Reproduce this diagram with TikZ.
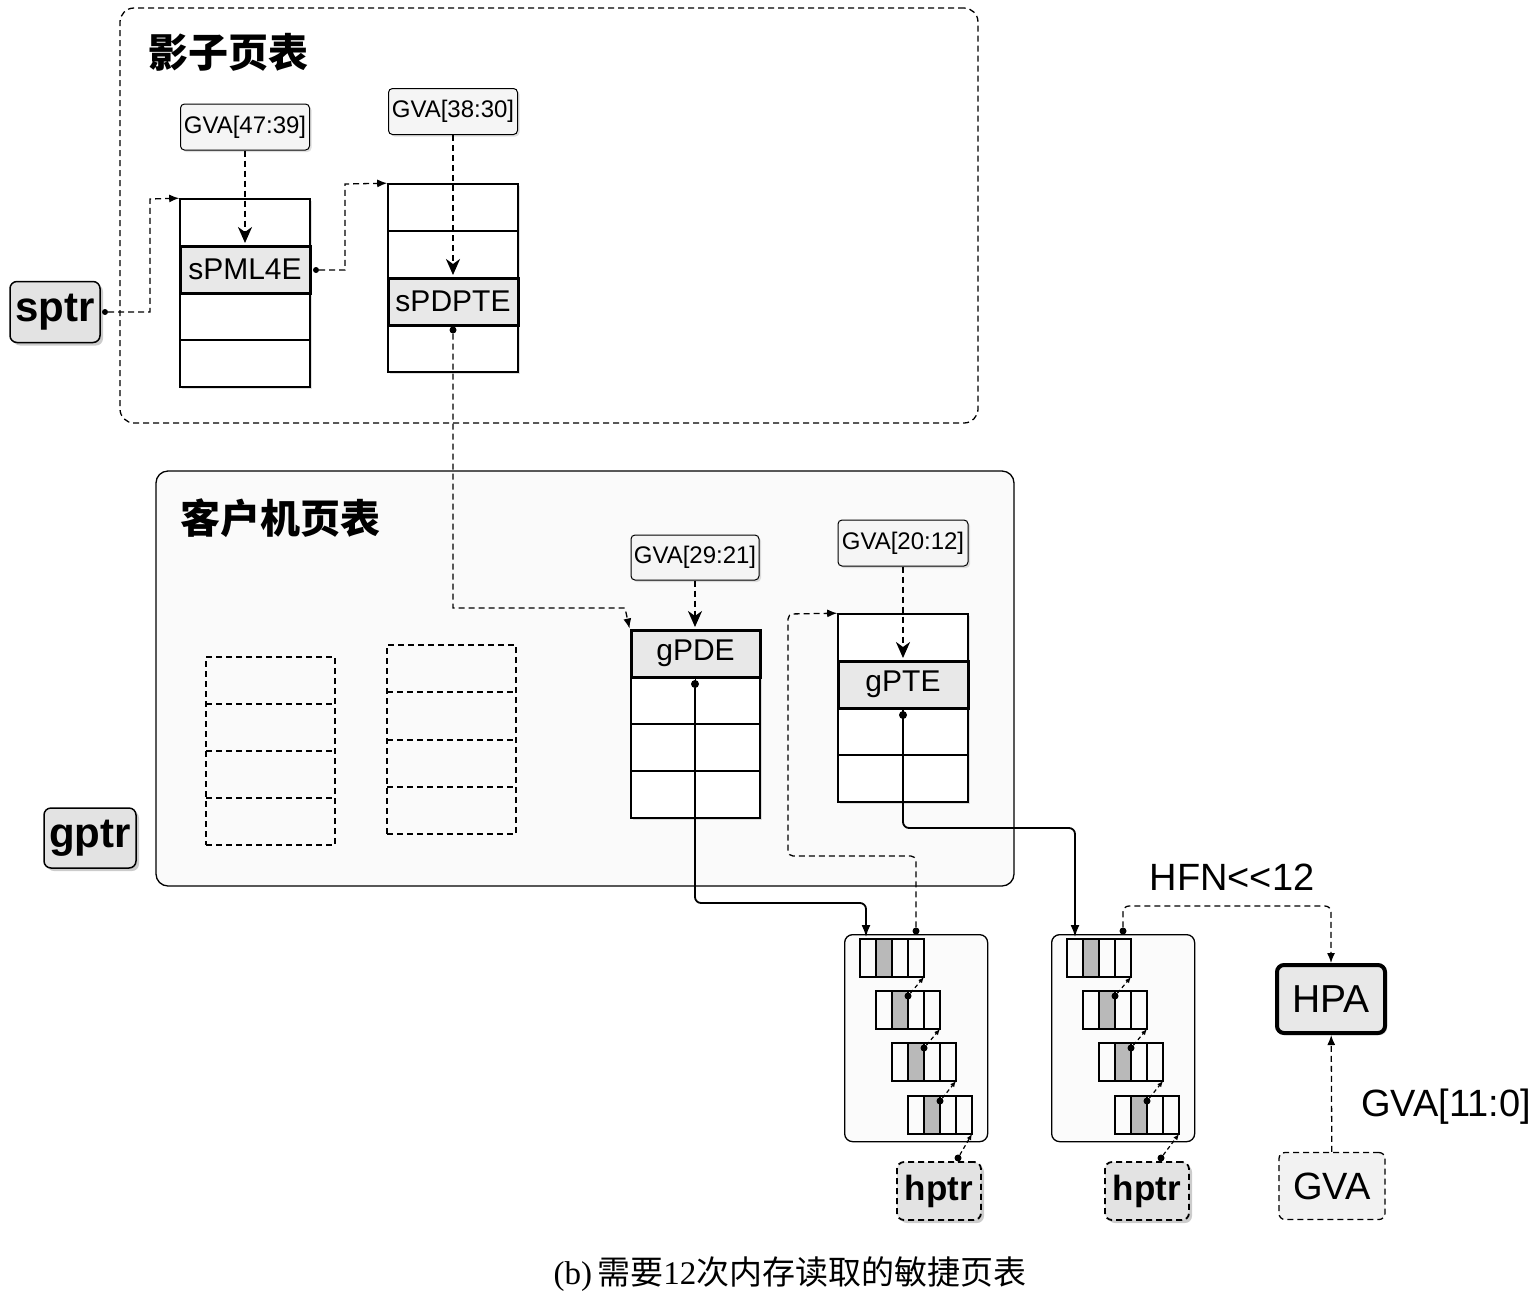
\documentclass[tikz,border=0pt]{standalone}
\usepackage{fontspec}
\setmainfont{Liberation Serif}
\newfontfamily\sans{Liberation Sans}
\newfontfamily\cjk{Noto Sans CJK SC}
\usetikzlibrary{shadows,arrows.meta,calc}
\begin{document}
\begin{tikzpicture}[x=1pt,y=-1pt,
  dsh/.style={dash pattern=on 6pt off 4pt},
  lbl/.style={draw,line width=1pt,rounded corners=4pt,fill=gray!8,font=\sans\fontsize{24}{26}\selectfont,inner sep=1pt,minimum width=129pt,minimum height=46pt,drop shadow={shadow xshift=2pt,shadow yshift=-2pt,opacity=.25}},
  ptr/.style={draw,line width=1.5pt,rounded corners=7pt,fill=gray!22,font=\sans\bfseries\fontsize{42}{46}\selectfont,inner sep=0pt,drop shadow={shadow xshift=3pt,shadow yshift=-3pt,opacity=.4}},
  tbl/.style={draw,line width=1.6pt,fill=white,minimum width=130pt,inner sep=0pt,drop shadow={shadow xshift=2pt,shadow yshift=-2pt,opacity=.25}},
  hl/.style={draw,line width=3pt,fill=gray!18,minimum width=130pt,minimum height=47pt,inner sep=0pt,font=\sans\fontsize{30}{32}\selectfont},
  dtbl/.style={draw,dsh,line width=1.2pt,minimum width=130pt,inner sep=0pt},
  con/.style={dsh,line width=1.3pt,-{Latex[length=10pt,width=8pt]}},
  gva/.style={dsh,line width=2.2pt,-{Stealth[length=16pt,width=14pt,inset=5pt]}},
  sol/.style={line width=1.8pt,rounded corners=6pt,-{Latex[length=12pt,width=9pt]}},
  dot/.style={circle,fill=black,inner sep=0pt,minimum size=8pt},
  sarr/.style={dash pattern=on 4pt off 3pt,line width=1.2pt,-{Latex[length=6pt,width=5pt]}}
]
\useasboundingbox (0,0) rectangle (1534,1294);
\node[draw,dsh,line width=1.3pt,rounded corners=14pt,minimum width=858pt,minimum height=415pt,inner sep=0pt] (shadowbox) at (549,215.5) {};
\node[font=\cjk\bfseries\fontsize{40}{42}\selectfont,anchor=west] (t1) at (145,52) {影子页表};
\node[draw,line width=1.3pt,rounded corners=12pt,fill=gray!4,minimum width=858pt,minimum height=415pt,inner sep=0pt] (guestbox) at (585,678.5) {};
\node[font=\cjk\bfseries\fontsize{40}{42}\selectfont,anchor=west] (t2) at (177,518) {客户机页表};
\node[ptr,minimum width=90pt,minimum height=61pt] (sptr) at (55,312) {sptr};
\node[ptr,minimum width=92pt,minimum height=60pt] (gptr) at (90,838) {gptr};
\node[tbl,minimum height=188pt] (T1) at (245,293) {};
\draw[line width=1.6pt] (180,340) -- (310,340);
\node[hl] (spml) at (245,269.5) {sPML4E};
\node[lbl] (g1) at (245,127) {GVA[47:39]};
\node[tbl,minimum height=188pt] (T2) at (453,278) {};
\draw[line width=1.6pt] (388,231) -- (518,231);
\node[hl] (spdpte) at (453,301.5) {sPDPTE};
\node[lbl] (g2) at (453,111.5) {GVA[38:30]};
\node[dtbl,minimum height=188pt,minimum width=129pt] (D1) at (270.5,751) {};
\foreach \y in {704,751,798} \draw[dsh,line width=1.2pt] (206,\y) -- (335,\y);
\node[dtbl,minimum height=189pt,minimum width=129pt] (D2) at (451.5,739.5) {};
\foreach \y in {692,740,787} \draw[dsh,line width=1.2pt] (387,\y) -- (516,\y);
\node[tbl,minimum height=188pt,minimum width=129pt] (T3) at (695.5,724) {};
\foreach \y in {724,771} \draw[line width=1.6pt] (631,\y) -- (760,\y);
\draw[line width=1.6pt] (695.5,677) -- (695.5,818);
\node[hl,minimum width=129pt] (gpde) at (695.5,653.5) {gPDE};
\node[lbl,minimum width=128pt,minimum height=45pt] (g3) at (695,557.5) {GVA[29:21]};
\node[tbl,minimum height=188pt] (T4) at (903,708) {};
\foreach \y in {755} \draw[line width=1.6pt] (838,\y) -- (968,\y);
\draw[line width=1.6pt] (903,708) -- (903,802);
\node[hl] (gpte) at (903,684.5) {gPTE};
\node[lbl,minimum width=130pt,minimum height=46pt] (g4) at (903,543) {GVA[20:12]};
\foreach \bx/\nm in {844/A,1051/B}{
  \node[draw,line width=1.3pt,rounded corners=8pt,fill=gray!3,minimum width=143pt,minimum height=207pt,inner sep=0pt,anchor=north west] (box\nm) at (\bx,934) {};
  \foreach \i/\yy in {0/939,1/991,2/1043,3/1096}{
    \pgfmathsetmacro{\xx}{\bx+16+16*\i}
    \fill[gray!55] (\xx+16,\yy) rectangle (\xx+32,\yy+38);
    \draw[line width=1.3pt] (\xx,\yy) rectangle (\xx+64,\yy+38);
    \foreach \k in {16,48} \draw[line width=1.1pt] (\xx+\k,\yy) -- (\xx+\k,\yy+38);
    \draw[line width=2.2pt] (\xx+16,\yy) rectangle (\xx+32,\yy+38);
    \coordinate (c\nm\i) at (\xx+32,\yy+5);
    \coordinate (e\nm\i) at (\xx+64,\yy+38);
  }
}
\foreach \nm in {A,B}{
  \foreach \i/\j in {1/0,2/1,3/2}{
    \node[dot,minimum size=7pt] (d\nm\i) at (c\nm\i) {};
    \draw[sarr] (d\nm\i) -- (e\nm\j);
  }
}
\node[ptr,dsh,line width=1.8pt,font=\sans\bfseries\fontsize{35}{38}\selectfont,minimum width=84pt,minimum height=58pt] (h1) at (939,1191) {hptr};
\node[ptr,dsh,line width=1.8pt,font=\sans\bfseries\fontsize{35}{38}\selectfont,minimum width=84pt,minimum height=58pt] (h2) at (1147,1191) {hptr};
\node[dot,minimum size=7pt] (hd1) at (958,1158) {};
\node[dot,minimum size=7pt] (hd2) at (1161,1158) {};
\draw[sarr] (hd1) -- (eA3);
\draw[sarr] (hd2) -- (eB3);
\node[draw,line width=4pt,rounded corners=7pt,fill=gray!18,minimum width=108pt,minimum height=68pt,inner sep=0pt,font=\sans\fontsize{39}{42}\selectfont,drop shadow={shadow xshift=2pt,shadow yshift=-2pt,opacity=.3}] (hpa) at (1331,999) {HPA};
\node[draw,dsh,line width=1.3pt,rounded corners=6pt,fill=gray!10,minimum width=106pt,minimum height=67pt,inner sep=0pt,font=\sans\fontsize{38}{40}\selectfont] (gva) at (1332,1186) {GVA};
\node[font=\sans\fontsize{38}{40}\selectfont] (hfn) at (1232,877) {HFN<<12};
\node[font=\sans\fontsize{38}{40}\selectfont] (g11) at (1446,1107) {GVA[11:0]};
\node (cap) at (790,1274) {\fontsize{33}{36}\selectfont (b)\,{\cjk 需要}12{\cjk 次内存读取的敏捷页表}};
\node[dot,minimum size=6pt] (sd) at (105,312) {};
\draw[con] (sd) -- (150,312) -- (150,199) -- (T1.north west);
\node[dot,minimum size=6pt] (pd) at (316,270) {};
\draw[con] (pd) -- (345,270) -- (345,184) -- (T2.north west);
\draw[gva] (g1) -- (245,243);
\draw[gva] (g2) -- (453,275);
\draw[gva] (g3) -- (695,627);
\draw[gva] (g4) -- (903,658);
\node[dot,minimum size=7pt] (sp) at (453,330) {};
\draw[con] (sp) -- (453,608) -- (625,608) -- (gpde.north west);
\node[dot] (gd) at (695,684) {};
\draw[sol] (gd) -- (695,903) -- (866,903) -- (866,937);
\node[dot] (gt) at (903,715) {};
\draw[sol] (gt) -- (903,828) -- (1075,828) -- (1075,937);
\node[dot,minimum size=7pt] (b1) at (916,931) {};
\draw[con,rounded corners=5pt] (b1) -- (916,856) -- (788,856) -- (788,614) -- (T4.north west);
\node[dot,minimum size=7pt] (b2) at (1123,931) {};
\draw[con,rounded corners=6pt] (b2) -- (1123,906) -- (1331,906) -- (hpa.north);
\draw[con] (gva) -- (hpa);
\end{tikzpicture}
\end{document}
